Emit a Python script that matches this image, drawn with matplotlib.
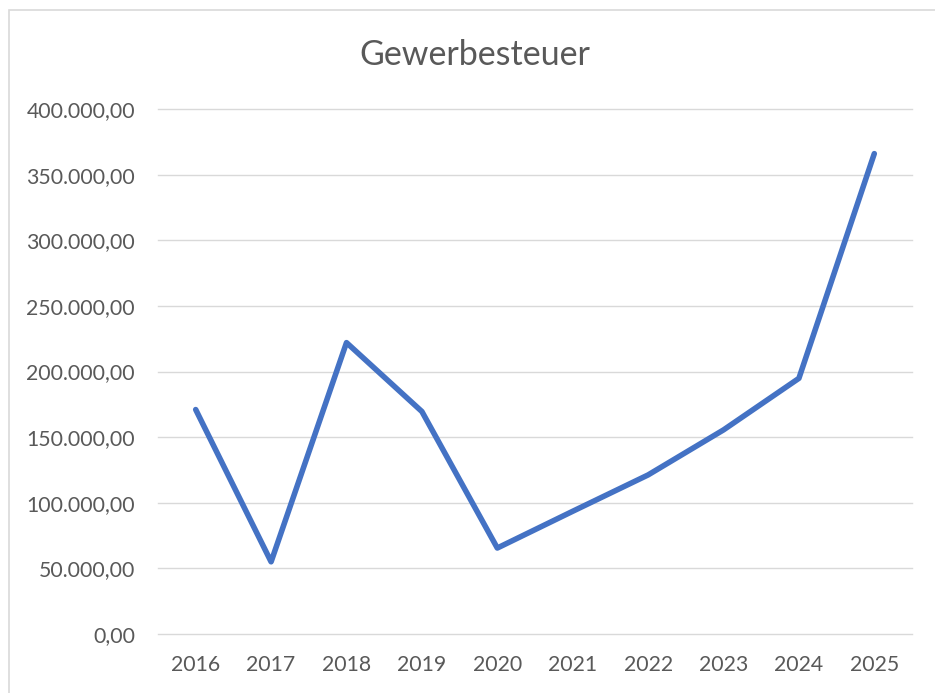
import matplotlib.pyplot as plt
from matplotlib.patches import Rectangle
from matplotlib.ticker import FuncFormatter

years = ["2016", "2017", "2018", "2019", "2020", "2021", "2022", "2023", "2024", "2025"]
gewerbesteuer = [171000, 55000, 222000, 169500, 65500, 93500, 121200, 155500, 194800, 366000]
y_ticks = [0, 50000, 100000, 150000, 200000, 250000, 300000, 350000, 400000]

plt.rcParams['font.family'] = ['Lato', 'DejaVu Sans']

fig = plt.figure(figsize=(9.35, 6.93), dpi=100)
ax = fig.add_axes([158 / 935, 1 - 634 / 693, (912 - 158) / 935, (634 - 109) / 693])

# light frame around the whole chart
fig.patches.append(Rectangle((9 / 935, -0.01), 1.0, 1 - 10 / 693 + 0.01,
                             transform=fig.transFigure, fill=False,
                             edgecolor='#d9d9d9', linewidth=1.2))

x = range(len(years))
ax.plot(x, gewerbesteuer, color='#4472c4', linewidth=4.0,
        solid_capstyle='round', solid_joinstyle='round', zorder=3)

ax.set_xlim(-0.5, len(years) - 0.5)
ax.set_ylim(0, 400000)
ax.set_xticks(list(x))
ax.set_xticklabels(years)
ax.set_yticks(y_ticks)


def de_fmt(v, pos):
    s = f"{v:,.2f}"
    return s.replace(",", "X").replace(".", ",").replace("X", ".")


ax.yaxis.set_major_formatter(FuncFormatter(de_fmt))
ax.grid(axis='y', color='#d9d9d9', linewidth=1.0)
for gl in ax.get_ygridlines():
    gl.set_clip_on(False)
ax.set_axisbelow(True)
for s in ax.spines.values():
    s.set_visible(False)
ax.tick_params(length=0, colors='#595959', labelsize=15.3)
ax.tick_params(axis='y', pad=16.5)
ax.tick_params(axis='x', pad=15)

fig.text(475 / 935, 1 - 55 / 693, "Gewerbesteuer", ha='center', va='center',
         fontsize=24.5, color='#595959')

fig.savefig("out.png", dpi=100)
